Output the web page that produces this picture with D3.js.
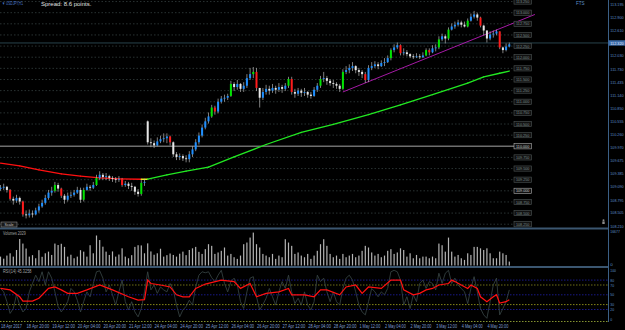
<!DOCTYPE html>
<html>
<head>
<meta charset="utf-8">
<script src="https://cdn.jsdelivr.net/npm/d3@7"></script>
<style>
  body { margin: 0; background: #000; }
  svg { display: block; font-family: "Liberation Sans", Arial, sans-serif; }
</style>
</head>
<body>
<div id="chart"></div>
<script>
// USDJPY bars, 18 Apr 04:00 .. 5 May 10:00 (one bar = 2h on this picture)
var closes = [
  109.07,109.09,109.02,108.82,108.78,108.84,108.76,108.47,108.45,108.49,
  108.47,108.56,108.65,108.73,108.84,108.96,109.00,109.13,109.05,108.89,
  108.80,108.89,108.91,108.96,109.02,108.80,109.02,109.09,109.07,109.13,
  109.29,109.36,109.31,109.33,109.29,109.27,109.25,109.27,109.13,109.16,
  109.11,109.09,108.98,108.93,109.18,109.20,110.09,110.07,110.02,110.11,
  110.16,110.18,110.22,110.09,109.82,109.76,109.78,109.73,109.71,109.82,
  109.93,110.09,110.24,110.42,110.56,110.67,110.87,110.78,111.00,111.07,
  111.09,111.13,111.40,111.33,111.40,111.29,111.36,111.53,111.62,111.67,
  111.31,111.09,111.22,111.29,111.25,111.31,111.27,111.33,111.29,111.36,
  111.51,111.22,111.18,111.25,111.20,111.22,111.16,111.13,111.27,111.36,
  111.51,111.53,111.47,111.42,111.40,111.36,111.29,111.67,111.71,111.76,
  111.80,111.71,111.67,111.62,111.49,111.76,111.80,111.84,111.80,111.87,
  111.89,111.98,112.16,112.22,112.27,112.09,112.11,112.07,112.02,112.00,
  112.02,112.00,112.04,112.16,112.11,112.20,112.22,112.40,112.47,112.42,
  112.62,112.69,112.73,112.78,112.73,112.69,112.82,112.91,112.96,112.89,
  112.71,112.60,112.42,112.51,112.53,112.58,112.22,112.16,112.24,112.29
];
var highs = [
  109.13,109.16,109.11,109.04,108.87,108.91,108.87,108.78,108.56,108.58,
  108.56,108.62,108.71,108.80,108.91,109.02,109.09,109.20,109.18,109.07,
  108.93,108.96,108.98,109.02,109.09,109.07,109.07,109.16,109.13,109.20,
  109.36,109.44,109.40,109.40,109.36,109.33,109.31,109.33,109.29,109.22,
  109.20,109.18,109.11,109.04,109.24,109.27,110.58,110.18,110.13,110.20,
  110.24,110.29,110.29,110.24,110.11,109.87,109.84,109.82,109.80,109.89,
  110.00,110.16,110.31,110.49,110.64,110.76,110.93,110.91,111.07,111.13,
  111.16,111.18,111.47,111.44,111.49,111.42,111.44,111.62,111.76,111.78,
  111.76,111.31,111.31,111.38,111.36,111.40,111.36,111.42,111.38,111.42,
  111.56,111.56,111.29,111.31,111.29,111.31,111.24,111.22,111.33,111.42,
  111.58,111.67,111.58,111.51,111.49,111.44,111.40,111.73,111.80,111.84,
  111.89,111.82,111.76,111.71,111.67,111.82,111.89,111.91,111.89,111.93,
  111.98,112.04,112.20,112.29,112.33,112.29,112.20,112.16,112.09,112.07,
  112.09,112.07,112.11,112.20,112.20,112.27,112.29,112.47,112.53,112.51,
  112.67,112.76,112.80,112.84,112.82,112.80,112.87,112.98,113.04,113.00,
  112.91,112.73,112.60,112.58,112.60,112.62,112.58,112.24,112.31,112.33
];
var lows = [
  109.00,109.02,108.96,108.78,108.69,108.73,108.69,108.42,108.38,108.40,
  108.40,108.45,108.51,108.62,108.69,108.80,108.89,108.96,108.98,108.84,
  108.71,108.76,108.84,108.87,108.93,108.73,108.76,109.00,109.00,109.04,
  109.11,109.24,109.24,109.24,109.22,109.20,109.18,109.20,109.09,109.09,
  109.04,109.00,108.91,108.87,108.89,109.11,110.04,109.98,109.96,110.00,
  110.07,110.09,110.07,110.02,109.76,109.69,109.69,109.67,109.64,109.64,
  109.76,109.89,110.04,110.20,110.38,110.51,110.64,110.71,110.74,110.96,
  111.00,111.04,111.11,111.24,111.27,111.22,111.22,111.31,111.49,111.53,
  111.24,110.87,111.04,111.16,111.16,111.20,111.18,111.22,111.20,111.24,
  111.31,111.16,111.09,111.13,111.11,111.13,111.09,111.07,111.11,111.22,
  111.31,111.44,111.38,111.36,111.31,111.29,111.22,111.27,111.62,111.64,
  111.69,111.64,111.58,111.53,111.42,111.44,111.71,111.76,111.73,111.78,
  111.80,111.87,111.93,112.11,112.18,112.04,112.04,112.02,111.98,111.96,
  111.98,111.96,111.98,112.02,112.04,112.09,112.13,112.18,112.36,112.31,
  112.38,112.60,112.64,112.69,112.67,112.67,112.67,112.80,112.87,112.82,
  112.67,112.49,112.33,112.38,112.44,112.49,112.18,112.09,112.13,112.22
];
var firstOpen = 109.04;
var gapBar = 46, gapOpen = 110.56;   // Monday 24 Apr opening gap
var greenBars = [17, 26, 30, 44, 66, 72, 79, 90, 100, 107, 122, 133, 137, 140, 146];
var redBars = [3, 7, 19, 38, 53, 67, 80, 91, 114, 125, 134, 150, 156];

var volumes = [
  4300,3300,4800,5900,4300,7500,12800,10600,8200,4300,
  5000,3500,7400,4200,5900,6700,5100,10600,9900,10500,
  9000,4300,5200,3500,4300,7400,6700,4300,9800,5900,
  14500,12300,9100,6700,5100,6800,4300,5300,8300,4300,
  3500,5000,9000,9800,9700,5900,10700,6800,5200,5900,
  8100,4300,5000,5800,5100,4300,5700,6700,5000,7500,
  8300,9000,6600,5600,7900,10300,9500,5600,6300,7100,
  8700,4800,5600,4000,3200,4800,10300,11100,13500,15900,
  10300,8700,5600,4800,4000,5600,3200,4800,4000,12700,
  11100,9500,5600,6300,4800,4000,5600,3200,4800,7100,
  10300,12700,9500,5600,4000,4800,3200,5600,4000,4800,
  5600,4000,4800,7100,9500,8700,6300,4800,5600,4000,
  4800,7100,7900,5600,6300,8300,7500,4300,5900,3500,
  5100,3500,4300,4300,3500,4300,3500,10600,9800,6700,
  13500,6700,4300,5100,3500,2700,5900,5100,9000,9000,
  8300,7500,8300,5900,3500,3500,6700,5900,5100,1900
];
var volumeMax = 16677;

// fast oscillator (grey) one value per bar
var rsiFast = [
  63,56,36,12,22,50,29,15,22,56,
  73,90,77,97,70,97,84,56,26,15,
  25,36,63,56,39,15,36,56,46,73,
  97,99,84,56,70,50,29,56,80,36,
  19,36,15,5,22,56,97,60,70,53,
  66,60,56,73,60,29,5,19,26,39,
  29,66,90,97,95,97,85,77,90,100,
  73,56,77,84,70,36,22,56,84,87,
  46,19,30,43,63,46,29,56,77,63,
  90,56,32,43,29,56,29,19,36,90,
  77,84,56,36,56,36,29,63,84,90,
  80,56,29,15,9,36,63,56,46,56,
  50,63,97,100,97,80,29,46,22,50,
  36,73,80,63,77,73,60,94,73,94,
  100,73,84,70,63,56,32,63,87,56,
  22,9,2,36,70,84,9,22,36,60
];
// RSI(14) red line, [bar, value]
var rsiMain = [
  [0,63],[3,60],[6,46],[7,37],[10,37],[12,43],[15,63],[17,66],[19,60],[21,53],
  [24,53],[27,60],[31,70],[35,60],[40,46],[43,39],[45,40],[46,80],[47,73],[50,70],
  [53,66],[55,50],[57,46],[59,46],[61,63],[64,72],[69,80],[73,77],[75,63],[78,73],
  [80,46],[83,53],[87,56],[90,63],[91,50],[95,50],[98,46],[100,60],[102,60],[106,50],
  [108,66],[111,70],[113,53],[115,66],[119,63],[122,80],[125,80],[126,60],[129,50],[131,53],
  [133,60],[135,63],[137,70],[140,73],[141,80],[142,77],[144,70],[146,63],[147,70],[149,63],
  [150,46],[152,36],[154,46],[155,50],[156,33],[158,36],[159,40]
];
var rsiLevels = [80, 70, 50, 30, 20];
var rsiAxis = ["100", "80", "70", "50", "30", "20", "0"];

// moving average, [bar, price]
var maPoints = [
  [0,109.62],[6,109.56],[12,109.47],[19,109.38],[25,109.33],[31,109.29],[37,109.27],
  [44,109.26],[46,109.26],[52,109.36],[58,109.44],[65,109.53],[73,109.76],[83,110.04],
  [94,110.31],[104,110.49],[115,110.71],[125,110.93],[135,111.16],[146,111.42],
  [151,111.56],[156,111.64],[159,111.69]
];
var trendLine = [[107, 111.22], [167, 112.96]];

var gridLevels = ["113.250","113.000","112.750","112.500","112.250","112.000","111.750",
  "111.500","111.250","111.000","110.750","110.500","110.250","110.000","109.750",
  "109.500","109.250","109.000","108.750","108.500","108.250"];
var brightLevels = ["110.000", "109.000"];
var priceAxis = ["113.195","112.900","112.610","112.320","112.030","111.730","111.435",
  "111.140","110.850","110.555","110.260","109.970","109.675","109.385","109.090",
  "108.795","108.505","108.210"];
var bidPrice = "112.320";

var timeLabels = ["18 Apr 2017","18 Apr 20:00","19 Apr 12:00","20 Apr 04:00","20 Apr 20:00",
  "21 Apr 12:00","24 Apr 04:00","24 Apr 20:00","25 Apr 12:00","26 Apr 04:00",
  "26 Apr 20:00","27 Apr 12:00","28 Apr 04:00","28 Apr 20:00","1 May 12:00",
  "2 May 04:00","2 May 20:00","3 May 12:00","4 May 04:00","4 May 20:00"];
var barsPerLabel = 8;

var W = 625, H = 330;
var axisX = 608.5;
var plotRight = 514;
var axisColor = "#3b5f85";
var axisText = "#5f8fc8";
var charW = 1.9; // the terminal font is narrow

// squeeze a text horizontally so it is about charW per character wide
function narrow(sel) {
  sel.each(function(d) {
    var t = d3.select(this);
    var tx = +t.attr("x") || 0, ty = +t.attr("y") || 0;
    var w = this.getComputedTextLength();
    var target = t.text().length * charW;
    var k = w > target ? target / w : 1;
    t.attr("x", 0).attr("y", 0)
     .attr("transform", "translate(" + tx + "," + ty + ") scale(" + k + ",1)");
  });
}

var svg = d3.select("#chart").append("svg")
  .attr("width", W)
  .attr("height", H)
  .style("background", "#000");

var x = d3.scaleLinear().domain([0, 159]).range([0.5, 509.3]);
var y = d3.scaleLinear().domain([108.21, 113.195]).range([226, 4]);
var yVol = d3.scaleLinear().domain([0, volumeMax]).range([265.5, 231]);
var yRsi = d3.scaleLinear().domain([0, 100]).range([319.3, 270.3]);

var defs = svg.append("defs");
defs.append("clipPath").attr("id", "clipMain").append("rect")
  .attr("x", 0).attr("y", 0).attr("width", axisX).attr("height", 227.5);
defs.append("clipPath").attr("id", "clipRsi").append("rect")
  .attr("x", 0).attr("y", 268).attr("width", axisX).attr("height", 53);

// ---- main window ----
var main = svg.append("g").attr("clip-path", "url(#clipMain)");

main.selectAll("line.grid").data(gridLevels).enter().append("line")
  .attr("class", "grid")
  .attr("x1", 0).attr("x2", plotRight)
  .attr("y1", function(d) { return y(+d); })
  .attr("y2", function(d) { return y(+d); })
  .attr("stroke", function(d) { return d === "110.000" ? "#6e6e6e" : "#3b4848"; })
  .attr("stroke-width", function(d) { return d === "110.000" ? 1.6 : 0.7; })
  .attr("stroke-dasharray", function(d) { return d === "110.000" ? null : "1.5,2"; });

// bid line
main.append("line")
  .attr("x1", 0).attr("x2", axisX)
  .attr("y1", y(+bidPrice)).attr("y2", y(+bidPrice))
  .attr("stroke", "#2c4a55").attr("stroke-width", 0.9);

// moving average, coloured by direction
var maSegs = d3.pairs(maPoints);
main.selectAll("line.ma").data(maSegs).enter().append("line")
  .attr("class", "ma")
  .attr("x1", function(d) { return x(d[0][0]); })
  .attr("y1", function(d) { return y(d[0][1]); })
  .attr("x2", function(d) { return x(d[1][0]); })
  .attr("y2", function(d) { return y(d[1][1]); })
  .attr("stroke", function(d) {
    if (d[1][1] > d[0][1]) return "#22e822";
    if (d[1][1] < d[0][1]) return "#ff1010";
    return "#e8e820";
  })
  .attr("stroke-width", 1.3)
  .attr("stroke-linecap", "round");

// trend line
main.append("line")
  .attr("x1", x(trendLine[0][0])).attr("y1", y(trendLine[0][1]))
  .attr("x2", x(trendLine[1][0])).attr("y2", y(trendLine[1][1]))
  .attr("stroke", "#b81cb8").attr("stroke-width", 0.9);

// candles
var bars = closes.map(function(c, i) {
  var o = i === 0 ? firstOpen : (i === gapBar ? gapOpen : closes[i - 1]);
  var col = c >= o ? "#1e8fff" : "#e6e6e6";
  if (greenBars.indexOf(i) >= 0) col = "#00e400";
  if (redBars.indexOf(i) >= 0) col = "#ff1a1a";
  return {i: i, o: o, h: highs[i], l: lows[i], c: c, col: col};
});

var cg = main.selectAll("g.bar").data(bars).enter().append("g").attr("class", "bar");
cg.append("line")
  .attr("x1", function(d) { return x(d.i); })
  .attr("x2", function(d) { return x(d.i); })
  .attr("y1", function(d) { return y(d.h); })
  .attr("y2", function(d) { return y(d.l); })
  .attr("stroke", "#b4b4b4")
  .attr("stroke-width", 0.7);
cg.append("rect")
  .attr("x", function(d) { return x(d.i) - 1; })
  .attr("width", 2)
  .attr("y", function(d) { return y(Math.max(d.o, d.c)); })
  .attr("height", function(d) { return Math.max(0.8, Math.abs(y(d.o) - y(d.c))); })
  .attr("fill", function(d) { return d.col; });

// price-level labels inside chart
var lvl = svg.selectAll("g.lvl").data(gridLevels).enter().append("g").attr("class", "lvl")
  .attr("transform", function(d) { return "translate(" + plotRight + "," + y(+d) + ")"; });
lvl.append("rect")
  .attr("x", 0).attr("y", -2.6).attr("width", 17.5).attr("height", 5.2)
  .attr("fill", "#111")
  .attr("stroke", function(d) { return brightLevels.indexOf(d) >= 0 ? "#b0b0b0" : "#4e5656"; })
  .attr("stroke-width", 0.6);
lvl.append("text")
  .attr("x", 2).attr("y", 1.6)
  .attr("font-size", 4.4)
  .attr("fill", function(d) { return brightLevels.indexOf(d) >= 0 ? "#d0d0d0" : "#7c8a8a"; })
  .text(function(d) { return d; })
  .call(narrow);

// ---- volumes ----
svg.append("g").selectAll("rect").data(volumes).enter().append("rect")
  .attr("x", function(d, i) { return x(i) - 0.6; })
  .attr("width", 1.2)
  .attr("y", function(d) { return yVol(d); })
  .attr("height", function(d) { return yVol(0) - yVol(d); })
  .attr("fill", "#b4b4b4");

// ---- RSI ----
var rsi = svg.append("g").attr("clip-path", "url(#clipRsi)");
rsi.selectAll("line.lv").data(rsiLevels).enter().append("line")
  .attr("class", "lv")
  .attr("x1", 0).attr("x2", axisX)
  .attr("y1", function(d) { return yRsi(d); })
  .attr("y2", function(d) { return yRsi(d); })
  .attr("stroke", function(d) { return d === 70 ? "#8c8c1c" : (d === 30 ? "#a8a81e" : "#2020a8"); })
  .attr("stroke-width", 0.8)
  .attr("stroke-dasharray", "1.5,1.5");

rsi.append("path")
  .datum(rsiFast)
  .attr("d", d3.line().x(function(d, i) { return x(i); }).y(function(d) { return yRsi(d); }))
  .attr("fill", "none").attr("stroke", "#3a4747").attr("stroke-width", 0.8);

rsi.append("path")
  .datum(rsiMain)
  .attr("d", d3.line().x(function(d) { return x(d[0]); }).y(function(d) { return yRsi(d[1]); }))
  .attr("fill", "none").attr("stroke", "#ff1010").attr("stroke-width", 1.25);

svg.append("line")
  .attr("x1", 0).attr("x2", axisX).attr("y1", 321.5).attr("y2", 321.5)
  .attr("stroke", "#a6b83c").attr("stroke-width", 0.8).attr("stroke-dasharray", "1.5,1.5");

// ---- frame ----
svg.append("rect").attr("x", 0).attr("y", 227.5).attr("width", axisX).attr("height", 2).attr("fill", "#3b5670");
svg.append("rect").attr("x", 0).attr("y", 266).attr("width", axisX).attr("height", 2).attr("fill", "#3b5670");
svg.append("line")
  .attr("x1", axisX).attr("x2", axisX).attr("y1", 0).attr("y2", 322)
  .attr("stroke", axisColor).attr("stroke-width", 1);

// right price axis
svg.append("g").selectAll("text").data(priceAxis).enter().append("text")
  .attr("x", 610.3).attr("y", function(d) { return y(+d) + 1.6; })
  .attr("font-size", 4.4)
  .attr("fill", axisText)
  .text(function(d) { return d; })
  .call(narrow);

var bid = svg.append("g").attr("transform", "translate(" + axisX + "," + y(+bidPrice) + ")");
bid.append("rect").attr("x", 0).attr("y", -2.7).attr("width", 16.5).attr("height", 5.4).attr("fill", "#3a6aa8");
bid.append("text").attr("x", 1.8).attr("y", 1.6).attr("font-size", 4.4)
  .attr("fill", "#e4ecff").text(bidPrice).call(narrow);

// volume axis
svg.append("text").attr("x", 610.3).attr("y", yVol(volumeMax) + 1.8)
  .attr("font-size", 4.4).attr("fill", axisText).text(String(volumeMax)).call(narrow);
svg.append("text").attr("x", 610.3).attr("y", yVol(0) + 0.5).attr("font-size", 4.4).attr("fill", axisText).text("0");

// rsi axis
svg.append("g").selectAll("text").data(rsiAxis).enter().append("text")
  .attr("x", 610.3).attr("y", function(d) { return yRsi(+d) + 1.6; })
  .attr("font-size", 4.4)
  .attr("fill", axisText)
  .text(function(d) { return d; })
  .call(narrow);

// time axis
svg.append("g").selectAll("text").data(timeLabels).enter().append("text")
  .attr("x", function(d, k) { return x(k * barsPerLabel) + 0.5; })
  .attr("y", 327.5)
  .attr("font-size", 4.8)
  .attr("fill", "#7f9fd0")
  .text(function(d) { return d; })
  .call(narrow);

// captions
svg.append("text").attr("x", 2).attr("y", 4.5).attr("font-size", 4.6)
  .attr("fill", "#4a78c8").text("\u25BC USDJPY,H1").call(narrow);
svg.append("text").attr("x", 41).attr("y", 5.8).attr("font-size", 6).attr("fill", "#e0e0e0").text("Spread: 8.6 points.");
svg.append("text").attr("x", 576).attr("y", 5).attr("font-size", 4.6).attr("fill", axisText).text("FTS");
svg.append("text").attr("x", 3).attr("y", 235).attr("font-size", 4.6)
  .attr("fill", "#a0a0a0").text("Volumes 2029").call(narrow);
svg.append("text").attr("x", 3).attr("y", 272.8).attr("font-size", 4.6)
  .attr("fill", "#a0a0a0").text("RSI(14) 45.3258").call(narrow);

// small scale box and icon
svg.append("rect").attr("x", 1).attr("y", 222).attr("width", 16).attr("height", 5)
  .attr("fill", "#1a1a1a").attr("stroke", "#a0a0a0").attr("stroke-width", 0.5);
svg.append("text").attr("x", 9).attr("y", 225.7).attr("text-anchor", "middle").attr("font-size", 3.6).attr("fill", "#c0c0c0").text("Scale");
svg.append("circle").attr("cx", 603.5).attr("cy", 220.3).attr("r", 1).attr("fill", "#8a8a8a");
svg.append("rect").attr("x", 602.3).attr("y", 221.4).attr("width", 2.4).attr("height", 2.6).attr("fill", "#8a8a8a");
</script>
</body>
</html>
